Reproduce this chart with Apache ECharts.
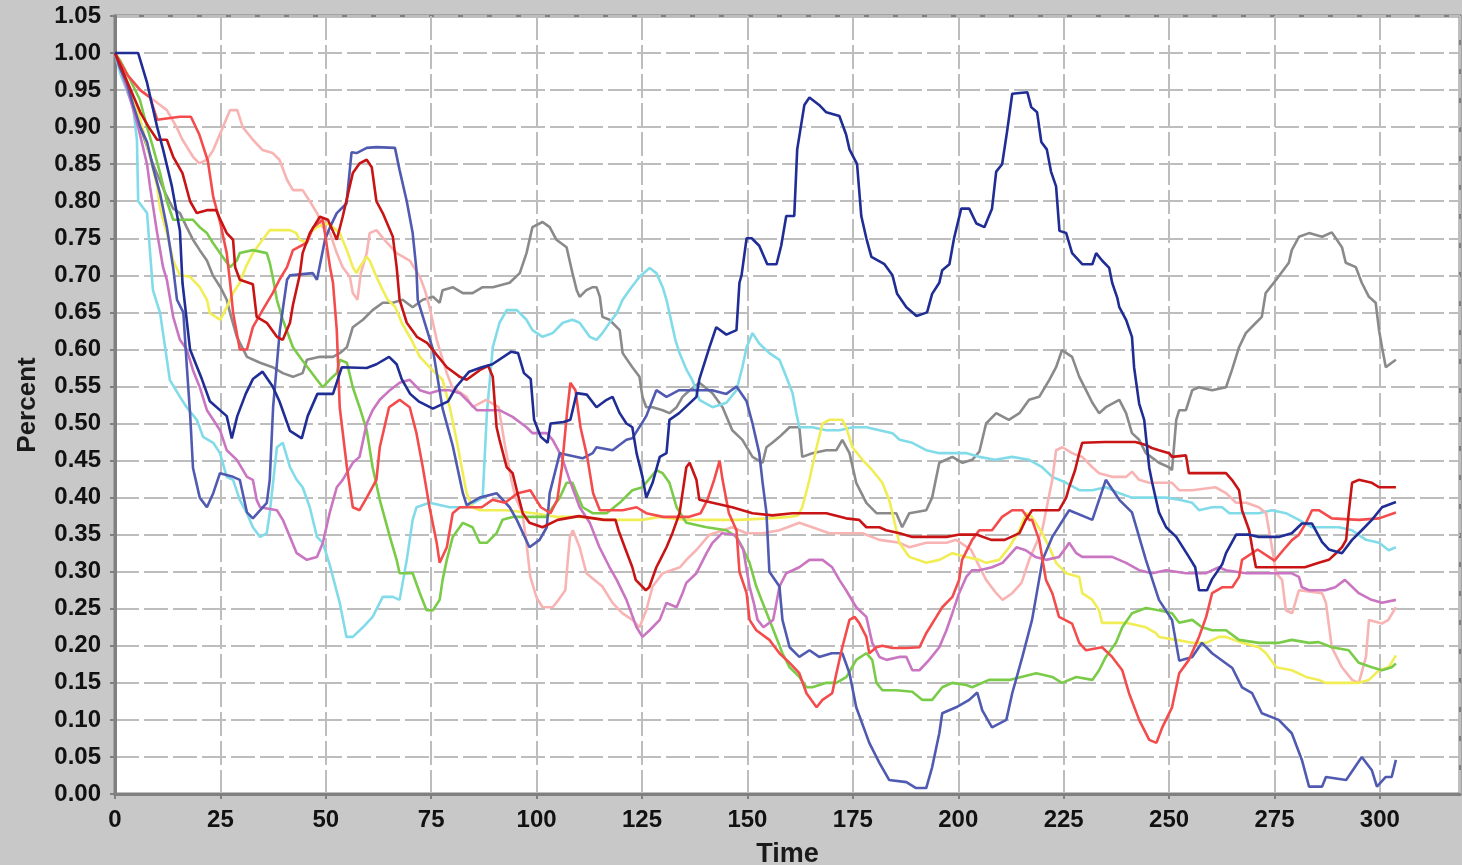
<!DOCTYPE html>
<html>
<head>
<meta charset="utf-8">
<title>Percent over Time</title>
<script src="https://cdn.jsdelivr.net/npm/echarts@6/dist/echarts.min.js"></script>
<style>
    html, body {
        margin: 0;
        padding: 0;
        background: #c8c8c8;
    }
    #chart {
        width: 1462px;
        height: 865px;
    }
</style>
</head>
<body>
<div id="chart"></div>
<script>
// [time, percent] pairs
const navyRun = [[0,1.0],[5.5,1.0],[7.6,0.96],[10,0.90],[11.4,0.87],[13.5,0.82],[15.4,0.76],[16,0.69],[17.8,0.60],[20.6,0.56],[22.5,0.53],[26.5,0.51],[27.7,0.48],[29,0.51],[31,0.54],[32.7,0.56],[35,0.57],[37.4,0.55],[39,0.53],[41.5,0.49],[44.3,0.48],[45.7,0.51],[48,0.54],[51.7,0.54],[53.8,0.576],[59.7,0.575],[62,0.58],[65,0.59],[66.8,0.58],[68,0.56],[70,0.54],[72,0.53],[75.4,0.52],[79,0.53],[81,0.55],[84,0.57],[87,0.576],[89.5,0.58],[94,0.597],[95.6,0.595],[97,0.568],[98.6,0.56],[99.4,0.505],[101,0.482],[102.6,0.474],[103.3,0.50],[106.4,0.502],[108,0.505],[109.5,0.541],[111.9,0.539],[114.2,0.522],[116.6,0.532],[118,0.536],[119.7,0.514],[121.3,0.50],[122.7,0.495],[123.7,0.46],[125.1,0.428],[126,0.40],[127.5,0.42],[129.2,0.455],[130.8,0.46],[131.5,0.505],[133.8,0.514],[137.9,0.536],[138.6,0.56],[141,0.603],[142.6,0.63],[145,0.62],[147.4,0.626],[148.1,0.69],[148.6,0.70],[149.8,0.75],[151,0.75],[152.8,0.74],[154.7,0.715],[156.9,0.715],[158,0.74],[159.2,0.78],[161.1,0.78],[161.8,0.87],[163.5,0.93],[164.7,0.94],[167,0.93],[168.7,0.92],[171.8,0.915],[173.4,0.89],[174.2,0.87],[176,0.85],[177,0.78],[178.2,0.75],[179.4,0.725],[182.5,0.715],[184.4,0.70],[185.5,0.675],[187.7,0.657],[190.1,0.645],[192.6,0.65],[193.8,0.675],[195.5,0.69],[196.2,0.707],[197.9,0.715],[199,0.75],[200.7,0.79],[202.6,0.79],[204.3,0.77],[206.2,0.765],[208,0.79],[209,0.84],[210.4,0.85],[211.6,0.895],[212.8,0.945],[216.4,0.947],[217.3,0.927],[218.7,0.92],[219.7,0.88],[221,0.87],[222,0.84],[223.2,0.82],[224,0.76],[225.6,0.757],[227,0.73],[229.4,0.715],[231.8,0.715],[232.7,0.73],[234.1,0.72],[235.8,0.71],[236.5,0.69],[237.7,0.67],[238.2,0.657],[239.8,0.64],[241.2,0.617],[241.7,0.576],[242.9,0.527],[244.1,0.505],[245.3,0.44],[246,0.42],[247.6,0.38],[249.3,0.36],[251.7,0.347],[254.7,0.32],[256.2,0.306],[257.1,0.275],[259,0.275],[260.2,0.29],[262.6,0.31],[263.5,0.325],[265.9,0.35],[269,0.35],[271.3,0.347],[276,0.347],[279.1,0.352],[281.5,0.365],[283.9,0.365],[286.3,0.34],[287.9,0.33],[291,0.325],[293.4,0.343],[295.7,0.356],[298.1,0.37],[300.5,0.387],[303.8,0.394]];

const slateRun = [[0,1.0],[1.2,0.98],[2.8,0.96],[4.3,0.93],[6,0.90],[7.6,0.88],[9,0.846],[10.7,0.81],[12.3,0.765],[13.8,0.71],[14.7,0.667],[16.2,0.65],[17,0.58],[17.8,0.514],[18.5,0.44],[20.1,0.40],[21.8,0.387],[23.3,0.406],[24.9,0.433],[28,0.428],[29.6,0.424],[31.3,0.38],[32.7,0.372],[36,0.393],[36.7,0.424],[37.5,0.522],[39.1,0.626],[40.8,0.694],[41.5,0.70],[46.9,0.703],[47.9,0.694],[49.8,0.748],[51,0.765],[52.6,0.784],[54.9,0.797],[56.1,0.866],[57.3,0.865],[59.7,0.872],[62,0.873],[66.4,0.872],[67.5,0.842],[69.2,0.80],[70.6,0.757],[71.5,0.707],[71.8,0.667],[75.4,0.60],[77.7,0.52],[80.1,0.47],[82.5,0.406],[83.4,0.39],[86.5,0.40],[90.5,0.406],[93.6,0.387],[95.3,0.37],[98.3,0.333],[100.7,0.343],[102.4,0.36],[103.1,0.406],[105.5,0.46],[110.9,0.453],[113.3,0.46],[114.2,0.468],[118,0.464],[121.3,0.478],[122.7,0.48],[126,0.51],[128.4,0.545],[130.8,0.536],[133.8,0.545],[141.6,0.545],[145,0.54],[147.4,0.55],[149.8,0.53],[151.2,0.50],[152.8,0.46],[153.6,0.42],[154.5,0.38],[155.2,0.30],[157.6,0.28],[158.3,0.235],[160,0.198],[162.3,0.185],[164.7,0.194],[167,0.185],[170,0.19],[172.5,0.19],[174.2,0.163],[175.8,0.117],[178.9,0.069],[181.3,0.042],[183.6,0.019],[187.7,0.016],[190,0.008],[192.4,0.008],[193.8,0.036],[195.5,0.082],[196.2,0.109],[199.5,0.117],[202.6,0.127],[204.5,0.137],[205.7,0.113],[208,0.09],[211.4,0.10],[212.8,0.136],[215.2,0.185],[217.5,0.235],[220,0.316],[222.3,0.347],[226.3,0.383],[231.8,0.37],[235,0.424],[238.2,0.397],[241.2,0.38],[244.5,0.316],[247.6,0.262],[250.7,0.235],[252.4,0.18],[255.5,0.185],[257.8,0.204],[260.2,0.19],[265,0.17],[267.3,0.144],[269.7,0.136],[272,0.109],[276,0.10],[279.1,0.082],[281.5,0.046],[283.2,0.01],[286.3,0.01],[287.2,0.023],[292,0.019],[295.7,0.05],[298.1,0.032],[299.3,0.01],[301.4,0.023],[302.8,0.023],[303.8,0.046]];

const grayRun = [[0,1.0],[3,0.95],[6,0.90],[9,0.85],[12,0.81],[13.8,0.79],[15.4,0.784],[17,0.765],[18.5,0.748],[20.1,0.734],[21.8,0.72],[23.2,0.70],[25,0.684],[26.5,0.667],[27.3,0.649],[28.9,0.617],[31.3,0.59],[34.4,0.582],[37.4,0.576],[39.8,0.568],[42.2,0.563],[44.5,0.568],[45.5,0.586],[48.6,0.59],[51.7,0.59],[53.3,0.595],[55,0.603],[56.4,0.63],[58.8,0.64],[61.1,0.653],[63.5,0.663],[65.9,0.663],[68.2,0.667],[70.6,0.657],[73,0.667],[75.4,0.671],[77,0.663],[77.7,0.68],[80.1,0.684],[82.5,0.676],[84.8,0.676],[87.2,0.684],[89.6,0.684],[93.6,0.69],[96,0.703],[97.6,0.73],[99,0.765],[101.4,0.772],[103.1,0.765],[104.7,0.748],[107.1,0.738],[108.5,0.703],[109.5,0.68],[110.2,0.671],[111.8,0.68],[113.3,0.684],[114.2,0.684],[115,0.671],[115.6,0.644],[117.3,0.64],[119.7,0.626],[120.4,0.595],[122.7,0.576],[124.4,0.563],[125.1,0.536],[126,0.522],[127.5,0.522],[129.9,0.518],[131.5,0.514],[133.2,0.522],[134.6,0.536],[136.3,0.545],[138.6,0.555],[141.7,0.541],[144.1,0.522],[146.4,0.491],[148.8,0.478],[151.2,0.455],[153.6,0.447],[154.5,0.468],[155.9,0.474],[157.6,0.482],[160,0.495],[162.3,0.495],[163,0.455],[165.4,0.46],[168.7,0.464],[171.1,0.464],[172.5,0.478],[174.2,0.46],[175.8,0.42],[178.2,0.393],[180.6,0.379],[185.3,0.379],[186.7,0.36],[188.4,0.379],[192.4,0.383],[193.8,0.40],[195.5,0.447],[198.6,0.455],[201,0.447],[203.3,0.451],[205,0.462],[206.6,0.50],[209,0.514],[212,0.505],[214.5,0.514],[216.8,0.532],[219.2,0.536],[221.6,0.559],[223.2,0.576],[224.6,0.599],[227,0.59],[228.7,0.563],[230.3,0.545],[231.8,0.528],[233.4,0.514],[235,0.522],[238.2,0.532],[239.8,0.514],[241.2,0.487],[242.9,0.478],[244.5,0.46],[247.6,0.447],[250,0.441],[250.7,0.437],[251.7,0.505],[252.4,0.518],[254,0.518],[255.5,0.545],[257.1,0.549],[260.2,0.545],[263.5,0.549],[264.9,0.572],[266.6,0.603],[268.2,0.622],[270.6,0.636],[272,0.644],[272.9,0.676],[275.4,0.694],[278.4,0.717],[279.1,0.734],[280.8,0.752],[283.2,0.757],[286.3,0.752],[288.6,0.758],[291,0.738],[291.9,0.717],[294.3,0.711],[295.7,0.69],[297.4,0.671],[299,0.663],[299.8,0.626],[300.5,0.603],[301.4,0.576],[302.8,0.582],[303.8,0.586]];

const cyanRun = [[0,1.0],[1.2,0.973],[4.3,0.927],[5.2,0.883],[5.5,0.80],[7.6,0.784],[9,0.68],[10.7,0.649],[13,0.559],[15.4,0.536],[17,0.522],[19.4,0.505],[20.9,0.482],[23.3,0.474],[24.9,0.46],[26.5,0.428],[28,0.424],[29.6,0.397],[31.3,0.379],[32.7,0.36],[34.4,0.347],[36,0.352],[36.7,0.379],[38.4,0.468],[39.8,0.474],[41.5,0.441],[43.1,0.424],[44.5,0.414],[46.2,0.387],[47.9,0.347],[49.3,0.339],[50.9,0.31],[53.3,0.258],[54.9,0.212],[56.4,0.212],[58.8,0.225],[61.1,0.239],[63.5,0.266],[65.9,0.266],[67.5,0.262],[69.2,0.316],[70.6,0.37],[71.5,0.387],[74.6,0.393],[79.4,0.387],[83.4,0.387],[87.2,0.40],[88.2,0.514],[89.6,0.603],[91.2,0.636],[92.9,0.653],[95.3,0.653],[97.6,0.64],[99,0.626],[101.4,0.617],[103.8,0.622],[106.2,0.636],[108.5,0.64],[110.2,0.636],[112.6,0.617],[114.2,0.613],[115.6,0.622],[117.3,0.636],[119,0.649],[120.4,0.667],[122.5,0.684],[124.4,0.698],[126.8,0.71],[128.4,0.703],[129.9,0.684],[130.8,0.667],[131.5,0.649],[132.9,0.613],[133.9,0.595],[135.6,0.572],[136.9,0.559],[138.6,0.532],[141.7,0.522],[145,0.528],[147.4,0.545],[148.8,0.576],[149.8,0.603],[151.2,0.622],[152.8,0.608],[155.2,0.595],[157.6,0.586],[159.2,0.563],[160.7,0.541],[161.6,0.514],[162.3,0.495],[165.4,0.495],[168.7,0.491],[171.8,0.491],[175,0.495],[178.2,0.495],[181.3,0.491],[184.4,0.487],[186.1,0.478],[189.1,0.474],[192.4,0.464],[195.5,0.46],[198.6,0.46],[202,0.46],[205,0.455],[208.7,0.451],[212.8,0.455],[216.8,0.451],[219.9,0.441],[222.3,0.428],[225.6,0.42],[228.7,0.41],[231.8,0.41],[235,0.414],[238.2,0.406],[241.2,0.40],[246,0.40],[249.3,0.40],[252.4,0.397],[255.5,0.393],[257.1,0.383],[260.2,0.387],[262.6,0.387],[264.3,0.379],[267.3,0.379],[271.3,0.379],[274.4,0.383],[277.7,0.379],[280.8,0.37],[283.9,0.36],[287,0.36],[290.3,0.36],[293.4,0.356],[296.7,0.343],[299.8,0.339],[302.1,0.329],[303.8,0.333]];

const darkRedRun = [[0,1.0],[3,0.96],[6,0.92],[8,0.90],[10,0.883],[12.3,0.883],[13.8,0.86],[16,0.838],[17.8,0.80],[19.4,0.784],[21.8,0.788],[24,0.788],[25,0.775],[26.5,0.757],[28,0.748],[28.5,0.711],[29.6,0.694],[32.7,0.688],[33.6,0.644],[36,0.636],[38.4,0.617],[39.8,0.613],[41.5,0.636],[42.2,0.66],[43.8,0.70],[44.5,0.73],[46.2,0.757],[48.6,0.779],[50.5,0.775],[52.6,0.748],[54,0.779],[56.4,0.838],[58,0.851],[59.7,0.856],[60.9,0.846],[62,0.80],[63.5,0.784],[65.9,0.752],[66.8,0.711],[67.5,0.667],[69.2,0.636],[71.6,0.617],[74,0.609],[75.4,0.599],[78.7,0.576],[81.8,0.563],[83.4,0.559],[86.5,0.572],[88.5,0.578],[89.6,0.563],[90.5,0.495],[91.2,0.478],[92.9,0.441],[94.3,0.433],[95.3,0.41],[96.7,0.379],[98.3,0.366],[101.4,0.36],[105,0.37],[110,0.375],[116,0.37],[118.7,0.37],[119.4,0.356],[121.1,0.33],[122.7,0.306],[123.5,0.289],[125.9,0.275],[126.7,0.279],[128.4,0.306],[129.3,0.316],[130.8,0.333],[132.2,0.352],[133.9,0.379],[134.6,0.406],[135.5,0.441],[136.3,0.447],[137.9,0.424],[138.6,0.397],[141.7,0.393],[146.4,0.387],[148.8,0.383],[151.2,0.379],[155.9,0.376],[160.7,0.379],[165.4,0.379],[168.7,0.379],[173.4,0.372],[176.5,0.37],[178.2,0.36],[181.3,0.36],[182.9,0.356],[186.1,0.352],[189.1,0.347],[192.4,0.347],[197.2,0.347],[200,0.35],[204.5,0.35],[207.8,0.343],[211,0.343],[214.5,0.352],[216,0.37],[217.5,0.383],[223.9,0.383],[225.6,0.40],[226.3,0.414],[227.7,0.437],[228.7,0.46],[229.4,0.474],[234.8,0.475],[242,0.475],[244.5,0.471],[245.9,0.467],[247.6,0.464],[250,0.46],[250.7,0.455],[254,0.457],[254.7,0.433],[257.8,0.433],[263.5,0.433],[264.9,0.424],[266.6,0.41],[267.3,0.383],[269,0.356],[269.7,0.333],[270.6,0.306],[276,0.306],[279.1,0.306],[282.2,0.306],[285.5,0.312],[287.9,0.316],[289.6,0.325],[291,0.333],[292,0.343],[292.6,0.379],[293.4,0.42],[295,0.424],[298.1,0.42],[299.8,0.414],[303.8,0.414]];

const redRun = [[0,1.0],[3,0.97],[6,0.95],[8.3,0.94],[10,0.91],[15.4,0.914],[18,0.914],[20,0.89],[22,0.855],[23.3,0.806],[25,0.77],[26.5,0.73],[27.3,0.69],[28,0.65],[29.6,0.60],[31.3,0.60],[32.7,0.63],[35,0.653],[37.4,0.676],[39,0.694],[40.8,0.711],[42.2,0.734],[45.5,0.744],[47,0.765],[49.3,0.775],[51,0.711],[51.7,0.69],[52.6,0.626],[53.3,0.522],[55,0.441],[56.4,0.387],[58,0.383],[59.7,0.40],[62,0.424],[62.8,0.468],[65,0.522],[67.5,0.532],[69.9,0.522],[71.5,0.487],[73,0.441],[74.6,0.387],[76.3,0.339],[77,0.312],[78.7,0.333],[80.1,0.379],[81.8,0.387],[87,0.387],[89.5,0.397],[92.5,0.393],[95.5,0.406],[98.5,0.41],[101,0.387],[103.3,0.379],[104.9,0.397],[106,0.441],[107.2,0.514],[108,0.555],[109.2,0.545],[110.4,0.495],[112,0.455],[113.4,0.406],[115,0.383],[120.4,0.383],[123.7,0.387],[126,0.379],[130,0.374],[136,0.374],[138.9,0.379],[140.5,0.397],[142.1,0.424],[143.4,0.45],[144.1,0.424],[145.6,0.379],[147.4,0.356],[148.1,0.30],[149.8,0.271],[150.5,0.235],[152.1,0.221],[155.2,0.208],[157.6,0.19],[160,0.177],[162.3,0.163],[164,0.136],[166.4,0.117],[167.8,0.127],[170.1,0.136],[171.1,0.163],[172.5,0.198],[174.2,0.235],[175.4,0.239],[176.5,0.231],[178.2,0.212],[178.9,0.19],[180.6,0.198],[182,0.20],[184.4,0.197],[187.7,0.197],[190.8,0.198],[192.4,0.217],[194.8,0.239],[196.2,0.252],[198.6,0.266],[200.2,0.289],[200.9,0.316],[203.3,0.343],[205,0.356],[208,0.356],[210.4,0.374],[212.8,0.383],[215.2,0.383],[216.8,0.37],[217.5,0.37],[219.2,0.343],[220.8,0.289],[222.3,0.271],[223.9,0.239],[227,0.23],[228.7,0.204],[230.3,0.194],[234.1,0.198],[236.5,0.185],[238.9,0.167],[240.5,0.136],[242.9,0.10],[245.3,0.073],[247,0.069],[248.4,0.09],[250.7,0.117],[252.4,0.163],[254.7,0.181],[257.1,0.212],[258.8,0.239],[260.2,0.271],[262.6,0.279],[265,0.279],[266.6,0.293],[267.3,0.316],[271,0.33],[275,0.315],[277.2,0.33],[279.2,0.343],[280.8,0.35],[282.5,0.366],[283.9,0.383],[285.5,0.383],[288.6,0.372],[295,0.37],[299.8,0.372],[303.8,0.38]];

const pinkRun = [[0,1.0],[3,0.97],[6,0.95],[10,0.933],[12.3,0.923],[14.6,0.90],[16,0.883],[18.5,0.86],[20,0.851],[21.8,0.856],[23.3,0.869],[25,0.892],[27.3,0.923],[29,0.923],[30.3,0.90],[32.7,0.883],[35,0.869],[37.4,0.865],[39,0.856],[40.8,0.829],[42.2,0.815],[44.5,0.815],[46.2,0.80],[47.9,0.784],[49.3,0.765],[51,0.757],[52.6,0.73],[54,0.711],[55.7,0.698],[56.4,0.676],[57.5,0.667],[58.3,0.703],[59.7,0.73],[60.4,0.757],[62,0.761],[64.5,0.744],[66.8,0.73],[69.9,0.72],[72.3,0.698],[73.5,0.68],[74.6,0.657],[76.3,0.613],[78.7,0.568],[80,0.549],[83.4,0.536],[84.8,0.522],[88,0.532],[91,0.522],[92.5,0.47],[94,0.424],[95,0.40],[96.6,0.38],[97.5,0.343],[98.5,0.293],[100,0.265],[101.4,0.252],[103.8,0.252],[105.2,0.262],[106.8,0.275],[107.4,0.316],[107.9,0.347],[108.6,0.356],[110.2,0.333],[111.8,0.298],[115.6,0.28],[118,0.258],[120.3,0.244],[122.7,0.235],[124.4,0.225],[126,0.248],[127.5,0.28],[129.9,0.298],[134,0.306],[135.5,0.316],[138,0.33],[141,0.35],[146.4,0.36],[149.8,0.352],[153.6,0.352],[157.6,0.356],[162.3,0.366],[165.4,0.36],[169.4,0.352],[173.4,0.352],[177.3,0.352],[181.3,0.343],[186.1,0.339],[188.4,0.333],[192.4,0.339],[197.2,0.339],[199.5,0.343],[203,0.33],[206.6,0.289],[209,0.271],[210.5,0.262],[212.8,0.271],[215,0.285],[216.8,0.316],[219.9,0.356],[222.3,0.424],[223.2,0.464],[224.7,0.468],[227,0.46],[229.4,0.455],[231.8,0.441],[233.4,0.433],[236.5,0.428],[239.8,0.428],[241.2,0.435],[242.9,0.424],[245.3,0.42],[250.7,0.42],[252.4,0.41],[255.5,0.41],[261,0.414],[263.5,0.406],[265.9,0.393],[268.3,0.393],[271.3,0.387],[273,0.379],[274.4,0.333],[275.4,0.298],[276.8,0.289],[277.7,0.248],[279.2,0.244],[280.8,0.275],[286.3,0.271],[287.2,0.258],[288.6,0.198],[291,0.171],[293.4,0.154],[295,0.15],[296.7,0.185],[297.4,0.235],[300.5,0.23],[302,0.235],[303.8,0.252]];

const yellowRun = [[0,1.0],[3,0.96],[6,0.91],[8.3,0.86],[10,0.82],[10.7,0.79],[12.3,0.757],[13.8,0.72],[15.4,0.70],[17.8,0.698],[20.1,0.684],[21.8,0.667],[22.5,0.649],[25,0.64],[26.5,0.657],[28,0.676],[29.6,0.69],[31,0.711],[32.7,0.73],[35,0.748],[36.7,0.761],[41.5,0.761],[43,0.757],[43.8,0.748],[45.5,0.744],[46.2,0.757],[47.8,0.765],[50.2,0.77],[51.7,0.765],[53.3,0.757],[55,0.734],[56.4,0.711],[57.3,0.703],[58,0.711],[59.7,0.725],[60.4,0.72],[62,0.698],[63.5,0.68],[64.7,0.667],[66.5,0.657],[68,0.636],[70.3,0.613],[72.3,0.59],[74.6,0.576],[77.7,0.559],[79.4,0.522],[81,0.478],[82.5,0.433],[83.4,0.406],[84.8,0.387],[86.5,0.383],[92.9,0.383],[99.3,0.379],[104.7,0.374],[110.2,0.374],[116.6,0.37],[125,0.37],[129.2,0.374],[135.5,0.37],[141.7,0.37],[148,0.37],[155,0.372],[160,0.374],[162,0.376],[163,0.387],[164.7,0.424],[166.4,0.468],[167.8,0.50],[169.4,0.505],[172.5,0.505],[173.4,0.495],[174.9,0.468],[177.3,0.451],[179.6,0.437],[182,0.42],[183.6,0.397],[184.4,0.379],[186,0.339],[188.4,0.32],[192.4,0.312],[195.5,0.316],[198.6,0.325],[201.9,0.32],[205,0.316],[206.6,0.312],[209.7,0.316],[212.1,0.333],[214.5,0.356],[216.1,0.379],[217.5,0.374],[219.9,0.352],[221.6,0.333],[223.2,0.312],[225.6,0.298],[228.7,0.293],[229.4,0.271],[231.8,0.262],[233.4,0.248],[234.1,0.231],[239.8,0.231],[244.5,0.225],[246.9,0.217],[247.6,0.212],[251.7,0.208],[255.5,0.204],[258.8,0.204],[261.8,0.212],[263.5,0.212],[267.3,0.204],[271.3,0.198],[273,0.19],[275.4,0.171],[279.1,0.167],[282.5,0.158],[285.5,0.154],[287.2,0.15],[295,0.15],[297.4,0.154],[299.8,0.167],[302.1,0.171],[303.8,0.187]];

const greenRun = [[0,1.0],[1.2,0.99],[3.6,0.964],[5.9,0.937],[7.6,0.90],[9,0.873],[10.7,0.838],[12.3,0.80],[13.8,0.775],[18.5,0.775],[20.1,0.765],[21.8,0.757],[23.2,0.744],[24.9,0.73],[27.3,0.711],[28.9,0.72],[29.6,0.73],[32.7,0.734],[36,0.73],[36.7,0.717],[37.4,0.698],[38.4,0.667],[39.8,0.64],[42.2,0.603],[43.8,0.59],[46.2,0.572],[47.9,0.559],[49.3,0.549],[50.9,0.559],[52.6,0.568],[53.3,0.586],[55,0.582],[56.4,0.549],[58,0.522],[59.7,0.491],[61.1,0.441],[62.8,0.397],[65.2,0.347],[66.8,0.316],[67.5,0.298],[70.6,0.298],[72.3,0.271],[73.9,0.248],[75.4,0.248],[77,0.262],[77.7,0.289],[78.7,0.316],[80.1,0.347],[82.5,0.366],[84.8,0.36],[86.5,0.339],[88.2,0.339],[90.5,0.352],[91.9,0.37],[94.3,0.374],[102.4,0.374],[103.8,0.387],[105.5,0.40],[107.1,0.42],[108.5,0.42],[109.5,0.406],[110.9,0.387],[113.3,0.379],[116.6,0.379],[119.7,0.393],[122.7,0.41],[125.1,0.414],[128.4,0.437],[129.9,0.433],[131.5,0.42],[133.2,0.387],[135.5,0.366],[140.3,0.36],[145,0.356],[147.4,0.347],[148.8,0.333],[150.5,0.312],[152.1,0.28],[153.6,0.258],[155.9,0.225],[158.3,0.19],[160,0.171],[162.3,0.158],[164,0.144],[165.4,0.144],[168.7,0.15],[171.1,0.15],[173.5,0.158],[175.8,0.181],[178.2,0.19],[179.6,0.181],[180.6,0.15],[182,0.14],[185.3,0.14],[189.1,0.138],[191.5,0.127],[193.8,0.127],[196.2,0.144],[198.6,0.15],[201.9,0.147],[203.3,0.144],[207.3,0.154],[212.1,0.154],[218.5,0.163],[222.3,0.158],[224.6,0.15],[228,0.158],[231.8,0.154],[233.4,0.167],[235,0.185],[237.4,0.204],[238.9,0.225],[241.2,0.244],[244.5,0.251],[247.6,0.248],[250.7,0.244],[252.4,0.231],[255.5,0.235],[257.8,0.225],[260.2,0.221],[263.5,0.221],[266.6,0.208],[271.3,0.204],[276.1,0.204],[279.1,0.208],[283.2,0.204],[285.5,0.205],[288.6,0.198],[292.6,0.194],[295,0.177],[298.1,0.171],[300.5,0.167],[302.8,0.171],[303.8,0.176]];

const orchidRun = [[0,1.0],[3,0.95],[5.5,0.90],[7.6,0.85],[8.3,0.82],[10,0.757],[11.4,0.711],[12.3,0.694],[13.8,0.644],[15.4,0.613],[17,0.60],[18.5,0.572],[20.1,0.549],[21.8,0.518],[23.3,0.505],[24.9,0.491],[26.5,0.464],[28.9,0.451],[31.3,0.428],[32.7,0.424],[33.6,0.397],[34.4,0.387],[38.4,0.383],[39.8,0.37],[41.5,0.347],[43.1,0.325],[45.5,0.316],[47.9,0.32],[49.3,0.339],[50.9,0.379],[52.6,0.414],[54,0.424],[56.4,0.447],[58,0.455],[59.7,0.50],[61.1,0.518],[62.8,0.532],[65.2,0.545],[67.5,0.555],[69.9,0.559],[72.3,0.545],[74.6,0.541],[77,0.545],[79.4,0.545],[81.8,0.541],[83.4,0.532],[85.8,0.518],[88.2,0.518],[91.2,0.518],[94.3,0.509],[97.6,0.495],[99,0.487],[102.4,0.487],[103.8,0.478],[105.5,0.46],[106.2,0.451],[107.8,0.424],[110.2,0.387],[112.6,0.366],[114.9,0.333],[117.3,0.306],[119,0.289],[121.3,0.262],[123.7,0.225],[125.1,0.212],[126.8,0.221],[129.2,0.235],[130.8,0.258],[133.2,0.252],[134.6,0.271],[135.5,0.285],[137.9,0.298],[140.3,0.325],[141.7,0.339],[144,0.352],[147,0.35],[149,0.33],[150.5,0.28],[151.5,0.258],[152.4,0.235],[153.8,0.225],[156.1,0.235],[157.6,0.28],[159.2,0.298],[162.3,0.306],[164.7,0.316],[167.8,0.316],[170.1,0.306],[171.8,0.289],[173.4,0.275],[175.8,0.252],[178.2,0.239],[179.6,0.204],[181.3,0.185],[183,0.181],[186,0.185],[187.7,0.185],[189.1,0.167],[190.8,0.167],[193.1,0.181],[195.5,0.198],[197.2,0.221],[198.6,0.244],[200.2,0.271],[201.9,0.293],[203.3,0.302],[205,0.302],[208,0.306],[210.5,0.312],[213.8,0.333],[216,0.329],[218.3,0.32],[220.8,0.316],[223.9,0.32],[225.6,0.333],[226.3,0.339],[228,0.325],[229.4,0.32],[233.4,0.32],[236.5,0.32],[239.8,0.312],[242.9,0.302],[246,0.298],[249.3,0.302],[254,0.298],[258.8,0.298],[261.8,0.306],[263.5,0.302],[268.3,0.298],[272.9,0.298],[279,0.298],[280.8,0.293],[281.5,0.279],[283.2,0.275],[287,0.275],[289.4,0.279],[291.7,0.289],[295,0.271],[298,0.262],[300.5,0.258],[303.8,0.262]];

const runs = [
    { data: grayRun, color: '#8a8a8a' },
    { data: cyanRun, color: '#82dbe8' },
    { data: pinkRun, color: '#f8b3b3' },
    { data: yellowRun, color: '#f1ed55' },
    { data: greenRun, color: '#7acb48' },
    { data: orchidRun, color: '#c975c1' },
    { data: slateRun, color: '#4f5ab0' },
    { data: redRun, color: '#f44c4c' },
    { data: darkRedRun, color: '#c81414' },
    { data: navyRun, color: '#1f2d94' }
];

const labelFont = 'Liberation Sans, Arial, sans-serif';

const chart = echarts.init(document.getElementById('chart'));

let option = {
    animation: false,
    backgroundColor: '#c8c8c8',
    grid: {
        left: 115,
        right: 2,
        top: 16,
        bottom: 71,
        // the axis name runs past the bottom edge, as in the original
        outerBoundsMode: 'none',
        show: true,
        backgroundColor: '#ffffff',
        borderColor: '#808080',
        borderWidth: 3
    },
    xAxis: {
        type: 'value',
        min: 0,
        max: 319,
        interval: 25,
        name: 'Time',
        nameLocation: 'middle',
        nameGap: 47,
        nameTextStyle: {
            fontSize: 27,
            fontWeight: 'bold',
            fontFamily: labelFont,
            color: '#1a1a1a'
        },
        axisLine: {
            show: true,
            lineStyle: { color: '#808080', width: 3 }
        },
        axisTick: {
            show: true,
            length: 5,
            lineStyle: { color: '#808080', width: 2 }
        },
        axisLabel: {
            fontSize: 24,
            fontWeight: 'bold',
            fontFamily: labelFont,
            color: '#111111',
            margin: 14,
            showMaxLabel: false
        },
        splitLine: {
            show: true,
            lineStyle: { color: '#bdbdbd', width: 2, type: [24, 5] }
        }
    },
    yAxis: {
        type: 'value',
        min: 0,
        max: 1.05,
        interval: 0.05,
        name: 'Percent',
        nameLocation: 'middle',
        nameGap: 74,
        nameTextStyle: {
            fontSize: 26,
            fontWeight: 'bold',
            fontFamily: labelFont,
            color: '#1a1a1a'
        },
        axisLine: {
            show: true,
            lineStyle: { color: '#808080', width: 3 }
        },
        axisTick: {
            show: true,
            length: 5,
            lineStyle: { color: '#808080', width: 2 }
        },
        axisLabel: {
            fontSize: 24,
            fontWeight: 'bold',
            fontFamily: labelFont,
            color: '#111111',
            margin: 14,
            formatter: v => v.toFixed(2)
        },
        splitLine: {
            show: true,
            lineStyle: { color: '#bdbdbd', width: 2, type: [24, 5] }
        }
    },
    series: runs.map(run => ({
        type: 'line',
        data: run.data,
        showSymbol: false,
        symbol: 'none',
        clip: true,
        lineStyle: { color: run.color, width: 2.6 },
        emphasis: { disabled: true }
    }))
};

option && chart.setOption(option);
</script>
</body>
</html>
